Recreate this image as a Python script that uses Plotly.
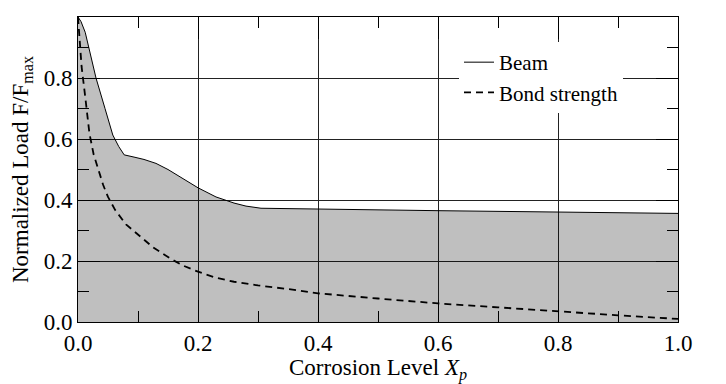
import plotly.graph_objects as go

# Data
beam_x = [0, 0.005, 0.012, 0.02, 0.03, 0.045, 0.058, 0.068, 0.077, 0.095, 0.11,
          0.13, 0.15, 0.175, 0.2, 0.23, 0.26, 0.28, 0.305, 0.6, 1.0]
beam_y = [1.0, 0.985, 0.95, 0.88, 0.80, 0.70, 0.613, 0.575, 0.548, 0.54, 0.533,
          0.52, 0.50, 0.47, 0.44, 0.41, 0.39, 0.38, 0.373, 0.365, 0.356]

bond_x = [0, 0.002, 0.006, 0.012, 0.019, 0.026, 0.034, 0.042, 0.05, 0.062, 0.08,
          0.103, 0.125, 0.153, 0.175, 0.2, 0.23, 0.26, 0.3, 0.35, 0.4, 0.5, 0.6,
          0.7, 0.8, 0.9, 1.0]
bond_y = [1.0, 0.935, 0.837, 0.739, 0.619, 0.55, 0.498, 0.449, 0.41, 0.367, 0.32,
          0.28, 0.245, 0.209, 0.185, 0.165, 0.145, 0.132, 0.12, 0.108, 0.094, 0.077,
          0.061, 0.048, 0.034, 0.022, 0.01]

series_names = ["Beam", "Bond strength"]
tick_vals = [0.0, 0.2, 0.4, 0.6, 0.8, 1.0]
tick_text = ["0.0", "0.2", "0.4", "0.6", "0.8", "1.0"]

FONT = "Liberation Serif, Times New Roman, DejaVu Serif, serif"

fig = go.Figure()
# gray area under the beam curve (semi-transparent so grid shows through)
fig.add_trace(go.Scatter(x=beam_x, y=beam_y, mode="lines", fill="tozeroy",
                         fillcolor="rgba(0,0,0,0.25)", line=dict(width=0),
                         showlegend=False, hoverinfo="skip"))
fig.add_trace(go.Scatter(x=beam_x, y=beam_y, mode="lines", name=series_names[0],
                         line=dict(color="black", width=1)))
fig.add_trace(go.Scatter(x=bond_x, y=bond_y, mode="lines", name=series_names[1],
                         line=dict(color="black", width=1.8, dash="7px,5px")))

axis_common = dict(
    range=[0, 1], tickvals=tick_vals, ticktext=tick_text,
    showgrid=True, gridcolor="#222", gridwidth=1,
    showline=True, linecolor="black", linewidth=1, mirror="allticks",
    ticks="inside", ticklen=22, tickcolor="black", tickwidth=1,
    minor=dict(dtick=0.1, ticks="inside", ticklen=11, tickcolor="black",
               tickwidth=1, showgrid=False),
    zeroline=False, automargin=False,
    tickfont=dict(family=FONT, size=23, color="black"),
    title_font=dict(family=FONT, size=23, color="black"),
)

fig.update_xaxes(**axis_common, title_text="Corrosion Level <i>X</i><sub><i>p</i></sub>",
                 title_standoff=6)
fig.update_yaxes(**axis_common, title_text="Normalized Load F/F<sub>max</sub>",
                 title_standoff=12)

# page has an 8px body margin, so the figure is shifted by 8px right/down
fig.update_layout(
    width=718, height=376,
    margin=dict(l=70, r=48, t=9, b=62),
    paper_bgcolor="white", plot_bgcolor="white",
    font=dict(family=FONT, size=22, color="black"),
    legend=dict(x=0.635, y=0.918, xanchor="left", yanchor="top",
                bgcolor="white", borderwidth=0,
                font=dict(family=FONT, size=21, color="black"),
                itemwidth=30, tracegroupgap=0),
)

fig.write_html("out.html")
